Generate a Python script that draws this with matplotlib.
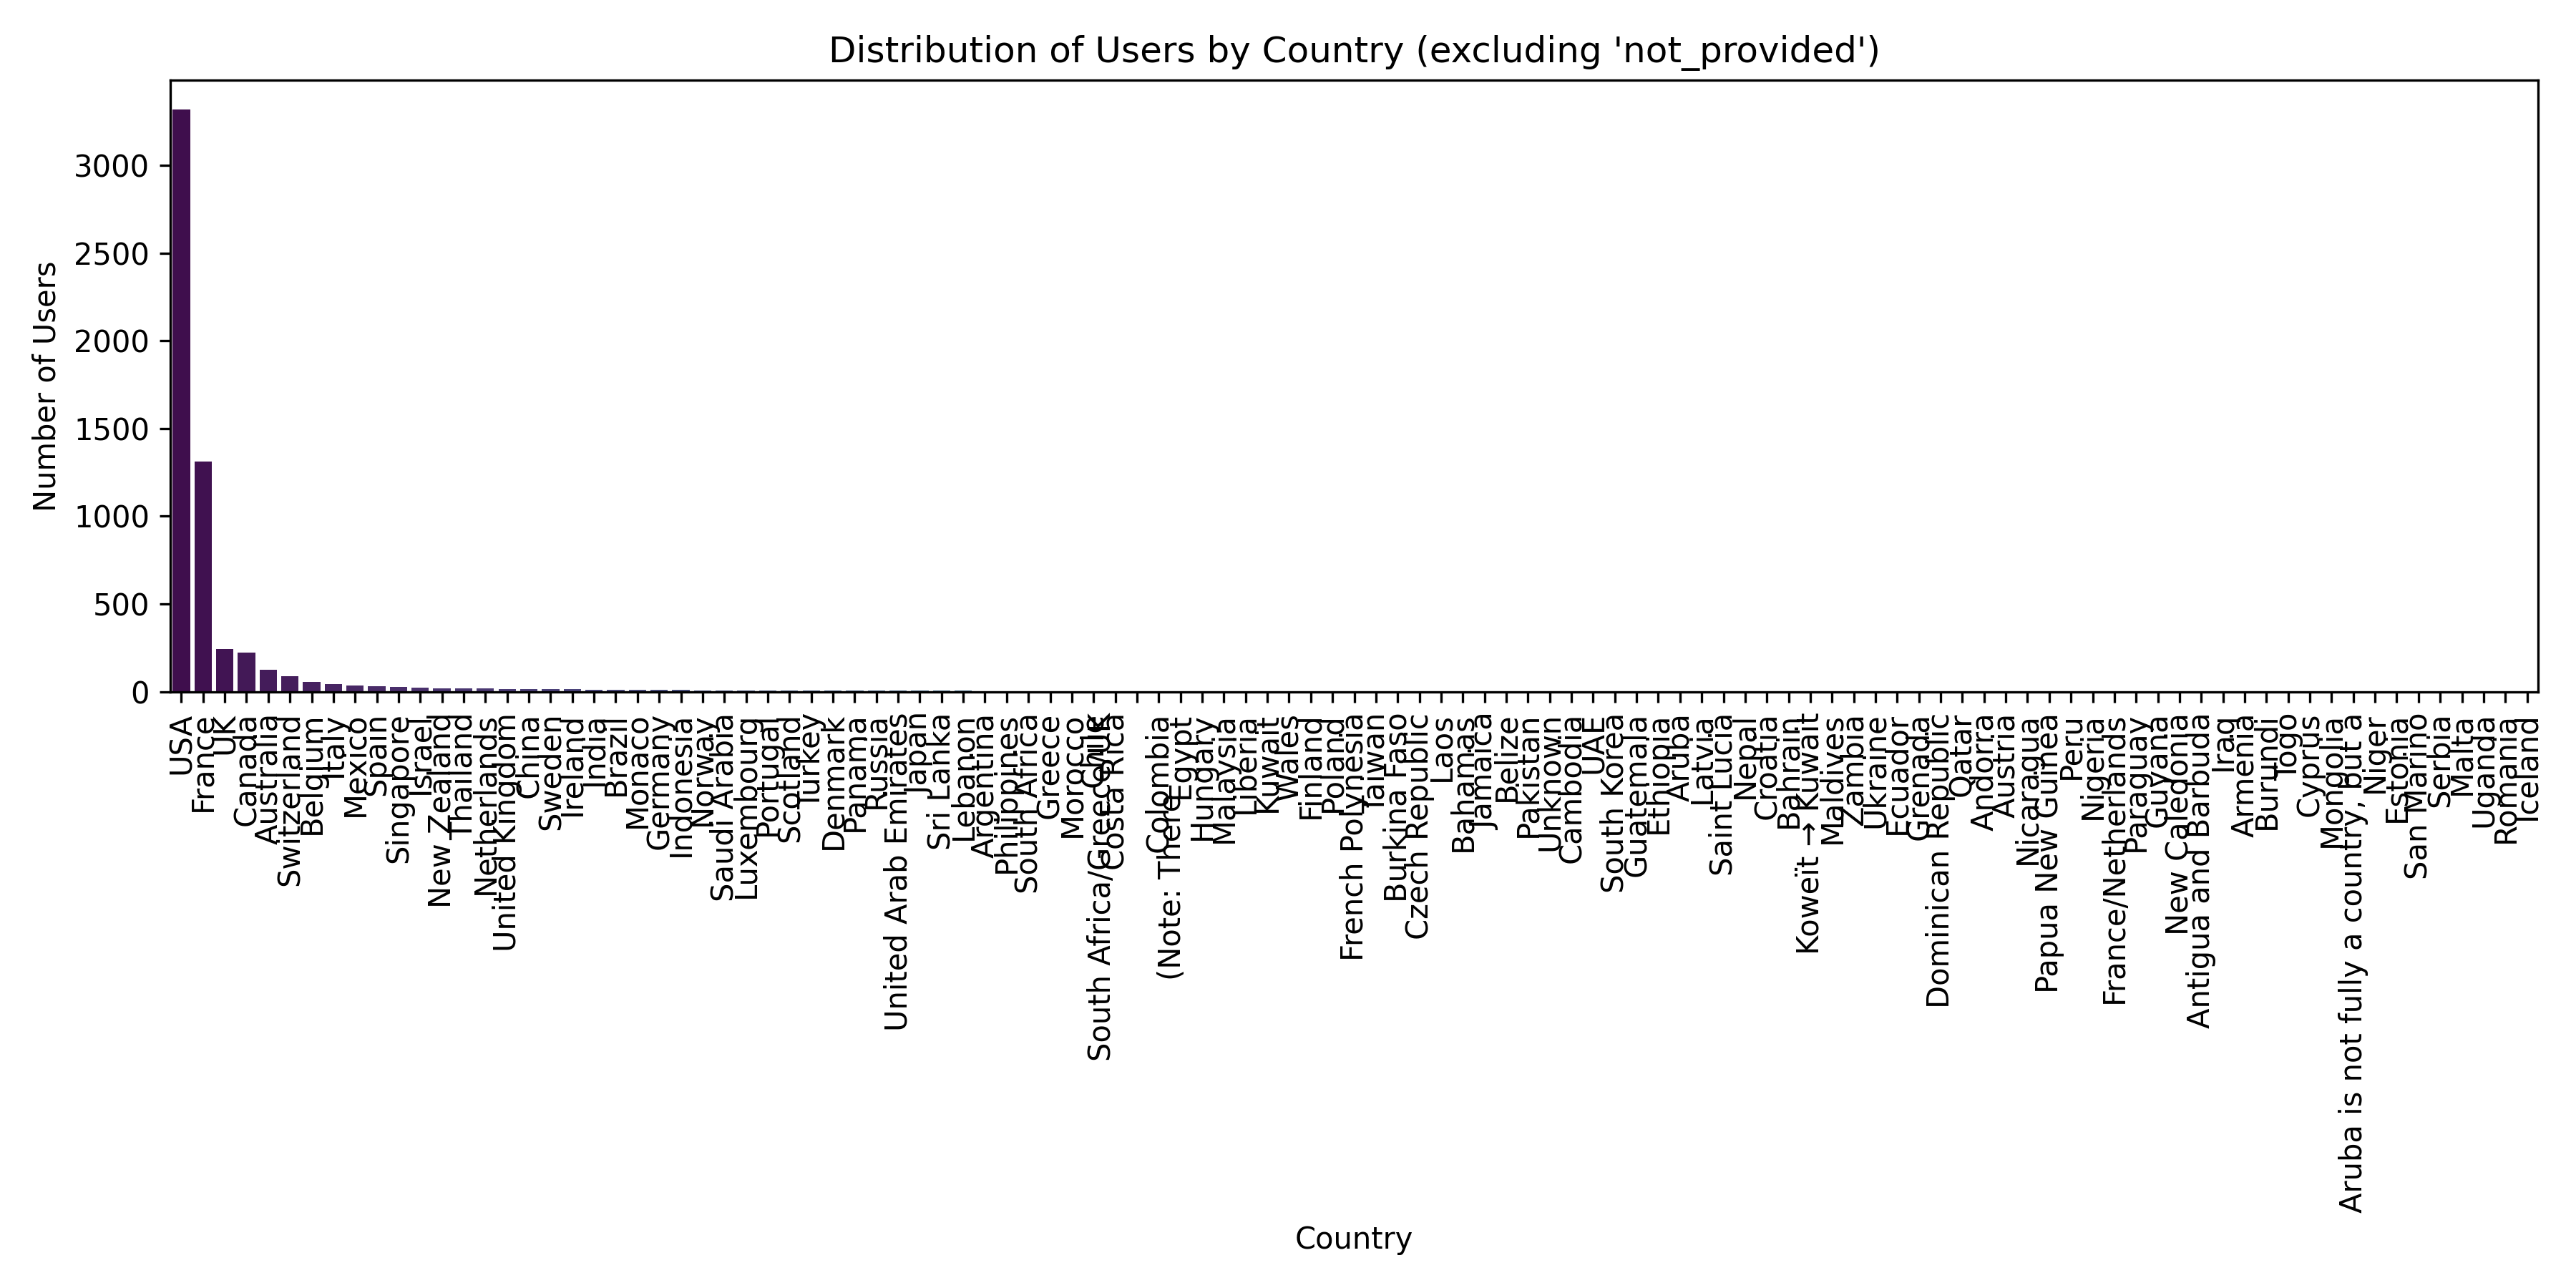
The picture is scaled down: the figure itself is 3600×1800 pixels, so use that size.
import matplotlib
matplotlib.use("Agg")
import matplotlib.pyplot as plt
import seaborn as sns

# ---------------------------
# DATA
# ---------------------------
countries = [
    "USA", "France", "UK", "Canada", "Australia", "Switzerland", "Belgium", "Italy",
    "Mexico", "Spain", "Singapore", "Israel", "New Zealand", "Thailand", "Netherlands",
    "United Kingdom", "China", "Sweden", "Ireland", "India", "Brazil", "Monaco",
    "Germany", "Indonesia", "Norway", "Saudi Arabia", "Luxembourg", "Portugal",
    "Scotland", "Turkey", "Denmark", "Panama", "Russia", "United Arab Emirates",
    "Japan", "Sri Lanka", "Lebanon", "Argentina", "Philippines", "South Africa",
    "Greece", "Morocco", "Chile", "Costa Rica",
    "South Africa/Greece/UK\n\n(Note: There",
    "Colombia", "Egypt", "Hungary", "Malaysia", "Liberia", "Kuwait", "Wales",
    "Finland", "Poland", "French Polynesia", "Taiwan", "Burkina Faso",
    "Czech Republic", "Laos", "Bahamas", "Jamaica", "Belize", "Pakistan", "Unknown",
    "Cambodia", "UAE", "South Korea", "Guatemala", "Ethiopia", "Aruba", "Latvia",
    "Saint Lucia", "Nepal", "Croatia", "Bahrain", "Koweït → Kuwait", "Maldives",
    "Zambia", "Ukraine", "Ecuador", "Grenada", "Dominican Republic", "Qatar",
    "Andorra", "Austria", "Nicaragua", "Papua New Guinea", "Peru", "Nigeria",
    "France/Netherlands", "Paraguay", "Guyana", "New Caledonia",
    "Antigua and Barbuda", "Iraq", "Armenia", "Burundi", "Togo", "Cyprus",
    "Mongolia", "Aruba is not fully a country, but a", "Niger", "Estonia",
    "San Marino", "Serbia", "Malta", "Uganda", "Romania", "Iceland",
]

users = [
    3320, 1310, 245, 224, 126, 88, 55, 43, 34, 30,
    26, 25, 21, 20, 17, 16, 16, 13, 13, 12,
    12, 11, 9, 9, 8, 8, 8, 7, 7, 7,
    6, 6, 6, 5, 5, 5, 5, 4, 4, 4,
    4, 4, 3, 3, 3, 3, 3, 3, 2, 2,
    2, 2, 2, 2, 2, 2, 2, 2, 2, 2,
    1, 1, 1, 1, 1, 1, 1, 1, 1, 1,
    1, 1, 1, 1, 1, 1, 1, 1, 1, 1,
    1, 1, 1, 1, 1, 1, 1, 1, 1, 1,
    1, 1, 1, 1, 1, 1, 1, 1, 1, 1,
    1, 1, 1, 1, 1, 1, 1, 1, 1,
]

plt.figure(figsize=(12, 6))
sns.barplot(x=countries, y=users, hue=countries, palette="viridis", legend=False)
plt.title("Distribution of Users by Country (excluding 'not_provided')")
plt.xlabel("Country")
plt.ylabel("Number of Users")
plt.xticks(rotation=90)
plt.tight_layout()
plt.savefig("out.png", dpi=300)
